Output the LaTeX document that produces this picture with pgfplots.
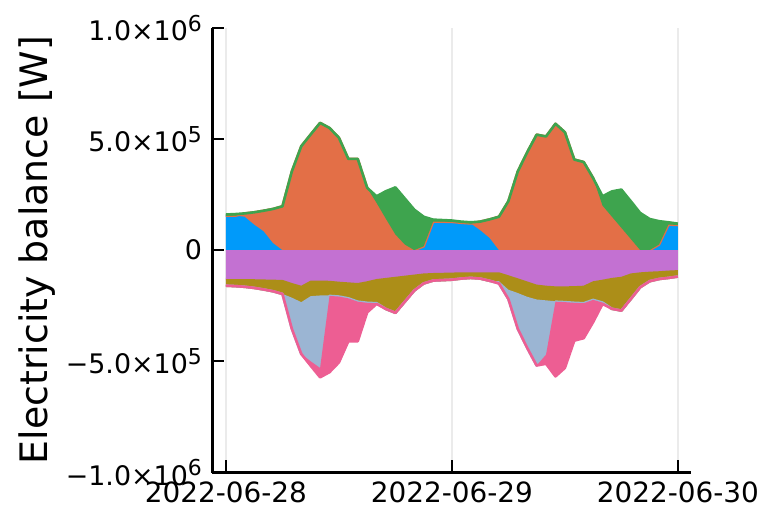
\documentclass[border=0pt]{standalone}
\usepackage{fontspec}
\setmainfont{DejaVu Sans}
\usepackage{pgfplots}
\pgfplotsset{compat=1.18}
\usepackage{pgfplotstable}
\usepgfplotslibrary{fillbetween}
\pgfplotsset{/tikz/fill between/on layer=main}

\definecolor{cB}{HTML}{009AFA}
\definecolor{cO}{HTML}{E36F47}
\definecolor{cG}{HTML}{3EA44E}
\definecolor{cP}{HTML}{C371D2}
\definecolor{cY}{HTML}{AC8E18}
\definecolor{cL}{HTML}{9BB5D3}
\definecolor{cK}{HTML}{ED5E93}

\newcommand\sups[1]{\raisebox{0.34em}{\fontsize{22}{22}\selectfont #1}}

% h: hours since 2022-06-28 00:00
% positive: b (blue), r (orange), g (green); negative magnitudes: p (purple), o (olive), l (light blue), k (pink)
\pgfplotstableread{
h b r g p o l k
0 155000 0 5000 130000 30000 0 0
1 155000 0 7000 130000 32000 0 0
2 150000 15000 0 131000 34000 0 0
3 115000 55000 0 131000 39000 0 0
4 85000 92000 0 132000 45000 0 0
5 32000 153000 0 133000 52000 0 0
6 0 197000 0 134000 63000 0 0
7 0 354000 0 148000 66000 140000 0
8 0 467000 0 160000 74000 233000 0
9 0 520000 0 137000 70000 293000 20000
10 0 572000 0 137000 67000 326000 42000
11 0 549000 0 138000 66000 2000 343000
12 0 505000 0 142000 65000 2000 296000
13 0 410000 0 145000 70000 2000 193000
14 0 410000 0 148000 82000 2000 178000
15 0 280000 0 140000 95000 2000 43000
16 0 212000 30000 130000 107000 2000 3000
17 0 140000 125000 125000 140000 0 0
18 0 70000 212000 120000 162000 0 0
19 0 25000 207000 115000 117000 0 0
20 0 0 182000 110000 72000 0 0
21 17000 0 133000 105000 45000 0 0
22 128000 0 9000 103000 34000 0 0
23 128000 0 7000 102000 33000 0 0
24 127000 0 6000 101000 32000 0 0
25 123000 0 5000 100000 28000 0 0
26 120000 0 5000 100000 25000 0 0
27 90000 38000 0 100000 28000 0 0
28 55000 83000 0 100000 38000 0 0
29 0 150000 0 100000 40000 10000 0
30 0 220000 0 113000 65000 42000 0
31 0 354000 0 127000 66000 161000 0
32 0 440000 0 141000 69000 230000 0
33 0 519000 0 155000 67000 297000 0
34 0 511000 0 160000 66000 244000 41000
35 0 568000 0 163000 67000 2000 336000
36 0 530000 0 163000 69000 2000 296000
37 0 407000 0 162000 73000 2000 170000
38 0 396000 0 160000 77000 2000 157000
39 0 324000 0 140000 82000 2000 100000
40 0 200000 42000 133000 101000 2000 6000
41 0 150000 114000 125000 139000 0 0
42 0 100000 172000 120000 152000 0 0
43 0 50000 170000 105000 115000 0 0
44 0 0 167000 100000 67000 0 0
45 0 0 140000 97000 43000 0 0
46 25000 0 105000 95000 35000 0 0
47 115000 0 10000 92000 33000 0 0
48 113000 0 6000 90000 29000 0 0
}\data

\begin{document}
\begin{tikzpicture}
\begin{axis}[
  at={(0,0)}, anchor=south west,
  scale only axis, width=479bp, height=444.8bp,
  xmin=-1.44, xmax=49.44, ymin=-1000000, ymax=1000000,
  axis lines=left, axis line style={-, line width=2.2bp, black},
  tick align=inside, major tick length=12bp,
  every tick/.style={line width=2.2bp, black},
  xtick={0,24,48}, xticklabels={2022-06-28,2022-06-29,2022-06-30},
  ytick={-1000000,-500000,0,500000,1000000},
  yticklabels={−1.0×10\sups{6},−5.0×10\sups{5},0,5.0×10\sups{5},1.0×10\sups{6}},
  scaled y ticks=false,
  xmajorgrids, major grid style={line width=1.5bp, black!8},
  xticklabel style={font=\fontsize{28}{33}\selectfont, yshift=-6bp},
  yticklabel style={font=\fontsize{27}{32}\selectfont, xshift=-7bp},
  ylabel={Electricity balance [W]},
  ylabel style={font=\fontsize{38}{43}\selectfont, at={(axis description cs:-0.366,0.5)}, anchor=center},
  line join=round,
]
\addplot[draw=none, name path=z] coordinates {(0,0) (48,0)};
\addplot[draw=none, name path=c1] table[x=h, y=b]{\data};
\addplot[draw=none, name path=c2] table[x=h, y expr=\thisrow{b}+\thisrow{r}]{\data};
\addplot[draw=none, name path=c3] table[x=h, y expr=\thisrow{b}+\thisrow{r}+\thisrow{g}]{\data};
\addplot[draw=none, name path=n1] table[x=h, y expr=-\thisrow{p}]{\data};
\addplot[draw=none, name path=n2] table[x=h, y expr=-\thisrow{p}-\thisrow{o}]{\data};
\addplot[draw=none, name path=n3] table[x=h, y expr=-\thisrow{p}-\thisrow{o}-\thisrow{l}]{\data};
\addplot[draw=none, name path=n4] table[x=h, y expr=-\thisrow{p}-\thisrow{o}-\thisrow{l}-\thisrow{k}]{\data};

\addplot[fill=cB, draw=none] fill between[of=z and c1];
\addplot[cB, line width=2.6bp] table[x=h, y=b]{\data};
\addplot[fill=cO, draw=none] fill between[of=c1 and c2];
\addplot[cO, line width=2.6bp] table[x=h, y expr=\thisrow{b}+\thisrow{r}]{\data};
\addplot[fill=cG, draw=none] fill between[of=c2 and c3];
\addplot[cG, line width=2.6bp] table[x=h, y expr=\thisrow{b}+\thisrow{r}+\thisrow{g}]{\data};

\addplot[fill=cP, draw=none] fill between[of=z and n1];
\addplot[cP, line width=2.6bp] table[x=h, y expr=-\thisrow{p}]{\data};
\addplot[fill=cY, draw=none] fill between[of=n1 and n2];
\addplot[cY, line width=2.6bp] table[x=h, y expr=-\thisrow{p}-\thisrow{o}]{\data};
\addplot[fill=cL, draw=none] fill between[of=n2 and n3];
\addplot[cL, line width=2.6bp] table[x=h, y expr=-\thisrow{p}-\thisrow{o}-\thisrow{l}]{\data};
\addplot[fill=cK, draw=none] fill between[of=n3 and n4];
\addplot[cK, line width=2.6bp] table[x=h, y expr=-\thisrow{p}-\thisrow{o}-\thisrow{l}-\thisrow{k}]{\data};
\end{axis}
\pgfresetboundingbox
\path (-212.4bp,-36.5bp) rectangle ++(761bp,509bp);
\end{tikzpicture}
\end{document}
